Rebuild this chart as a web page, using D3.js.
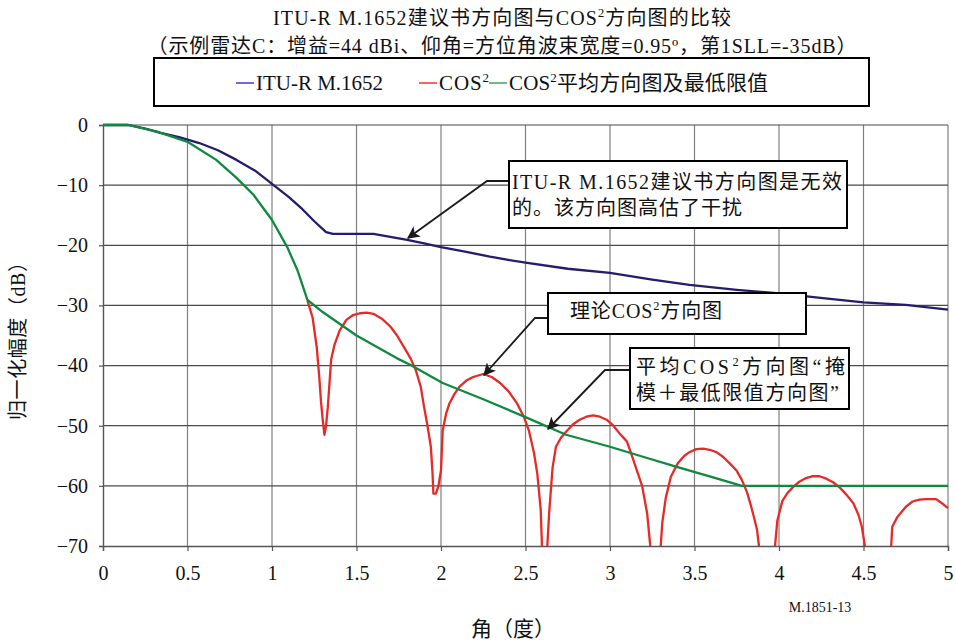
<!DOCTYPE html>
<html>
<head>
<meta charset="utf-8">
<script src="https://cdn.jsdelivr.net/npm/d3@7"></script>
<style>
  body { margin: 0; background: #fff; }
  svg { display: block; }
  text { font-family: "Liberation Serif", "Noto Sans CJK SC", serif; fill: #111; }
</style>
</head>
<body>
<svg id="chart" width="956" height="644"></svg>
<script>
// ---- axis ticks ----
const xTicks = [0, 0.5, 1, 1.5, 2, 2.5, 3, 3.5, 4, 4.5, 5];
const xTickLabels = ["0", "0.5", "1", "1.5", "2", "2.5", "3", "3.5", "4", "4.5", "5"];
const yTicks = [0, -10, -20, -30, -40, -50, -60, -70];
const yTickLabels = ["0", "\u221210", "\u221220", "\u221230", "\u221240", "\u221250", "\u221260", "\u221270"];

// ---- ITU-R M.1652 pattern (angle in degrees, level in dB) ----
const ituAngle = [0, 0.15, 0.25, 0.34, 0.45, 0.57, 0.68, 0.79, 0.9, 1.0, 1.1, 1.18, 1.25, 1.32, 1.36,
  1.6, 1.7, 1.8, 1.9, 2.0, 2.15, 2.29, 2.39, 2.5, 2.75, 3.0, 3.25, 3.47, 3.75, 4.0, 4.26, 4.5, 4.75, 5.0];
const ituLevel = [0, 0, -0.6, -1.3, -2.0, -3.0, -4.2, -5.8, -7.6, -9.8, -12.0, -14.0, -16.0, -17.8, -18.1,
  -18.1, -18.6, -19.1, -19.7, -20.3, -21.1, -21.9, -22.4, -22.9, -23.9, -24.6, -25.7, -26.6, -27.4, -28.0, -28.8, -29.5, -29.9, -30.7];

// ---- averaged COS^2 mask with floor ----
const avgAngle = [0, 0.15, 0.32, 0.5, 0.67, 0.79, 0.89, 1.0, 1.09, 1.15, 1.21, 1.3, 1.5, 1.74, 1.82,
  2.01, 2.25, 2.51, 2.74, 3.0, 3.2, 3.4, 3.6, 3.78, 5.0];
const avgLevel = [0, 0, -1.1, -2.8, -5.8, -8.8, -11.6, -15.8, -20.3, -24.1, -29.1, -31.1, -35.0, -38.8, -39.9,
  -42.9, -45.6, -48.7, -51.5, -53.5, -55.2, -56.9, -58.5, -60.0, -60.0];

// ---- theoretical COS^2 pattern (side-lobe region) ----
const cosAngle = [1.21, 1.24, 1.265, 1.28, 1.29, 1.30, 1.31, 1.32, 1.33, 1.34, 1.35, 1.37, 1.40, 1.44, 1.48,
  1.52, 1.56, 1.60, 1.65, 1.70, 1.74, 1.78, 1.82, 1.85, 1.88, 1.90, 1.92, 1.94, 1.95, 1.955, 1.97, 1.985,
  2.0, 2.01, 2.03, 2.05, 2.08, 2.11, 2.15, 2.19, 2.25, 2.30, 2.35, 2.40, 2.45, 2.49, 2.52, 2.55, 2.57,
  2.59, 2.60, 2.625, 2.64, 2.66, 2.68, 2.71, 2.74, 2.78, 2.82, 2.86, 2.90, 2.94, 2.98, 3.02, 3.06, 3.10,
  3.13, 3.16, 3.19, 3.22, 3.245, 3.295, 3.31, 3.33, 3.36, 3.40, 3.44, 3.47, 3.51, 3.55, 3.59, 3.63, 3.67,
  3.71, 3.75, 3.78, 3.81, 3.83, 3.85, 3.87, 3.89, 3.97, 3.99, 4.02, 4.05, 4.08, 4.12, 4.16, 4.20, 4.24,
  4.28, 4.32, 4.36, 4.40, 4.44, 4.47, 4.49, 4.52, 4.66, 4.67, 4.70, 4.72, 4.75, 4.79, 4.83, 4.87, 4.93,
  4.96, 5.0];
const cosLevel = [-29.2, -32, -37, -42, -46, -49, -51.5, -50, -47, -43, -39, -36.5, -34.2, -32.4, -31.6,
  -31.3, -31.2, -31.4, -32.2, -33.5, -35, -36.9, -38.8, -40.7, -43.5, -46.9, -50, -53.5, -58, -61.3, -61.3, -60,
  -57.4, -50.8, -48, -46.3, -44.7, -43.5, -42.5, -41.9, -41.4, -41.9, -42.9, -44.3, -46.3, -48.5, -50.8, -54.5, -58,
  -64, -72, -72, -64.5, -57, -53.5, -52, -51, -49.8, -49, -48.5, -48.3, -48.5, -49, -50, -51.4, -52.6,
  -55, -57.5, -60, -64.6, -72, -72, -66, -62, -58.5, -56.3, -55, -54.4, -53.9, -53.8, -54, -54.4, -55.2,
  -56.3, -57.5, -59, -61, -62.9, -65, -67.3, -72, -72, -65.8, -62.5, -61.2, -60.3, -59.3, -58.7, -58.4, -58.4,
  -58.8, -59.4, -60.3, -61.5, -62.9, -64.8, -66.8, -72, -72, -66.8, -65.2, -64.5, -63.5, -62.6, -62.3, -62.2, -62.2,
  -62.8, -63.7];

// ---- text ----
const titleLine1 = [{t: "ITU-R M.1652建议书方向图与COS"}, {t: "2", sup: true}, {t: "方向图的比较"}];
const titleLine2 = [{t: "（示例雷达C：增益=44 dBi、仰角=方位角波束宽度=0.95º，第1SLL=-35dB）"}];
const legendNames = [[{t: "ITU-R M.1652"}], [{t: "COS"}, {t: "2", sup: true}], [{t: "COS"}, {t: "2", sup: true}, {t: "平均方向图及最低限值"}]];
const yAxisTitle = "归一化幅度（dB）";
const xAxisTitle = "角（度）";
const figureId = "M.1851-13";
const note1 = [[{t: "ITU-R  M.1652建议书方向图是无效"}], [{t: "的。该方向图高估了干扰"}]];
const note2 = [[{t: "理论COS"}, {t: "2", sup: true}, {t: "方向图"}]];
const note3 = [[{t: "平均COS"}, {t: "2", sup: true}, {t: "方向图“掩"}], [{t: "模＋最低限值方向图”"}]];

const colors = { itu: "#241c6e", cos: "#e52a27", avg: "#0e8a3e" };
const legendColors = ["#3a3adc", "#ee3333", "#3aa860"];

const W = 956, H = 644;
const margin = { left: 103, right: 8, top: 125, bottom: 98 };
const svg = d3.select("#chart");

const x = d3.scaleLinear().domain([0, 5]).range([margin.left, W - margin.right]);
const y = d3.scaleLinear().domain([-70, 0]).range([H - margin.bottom, margin.top]);

// write text runs into a <text>, raising superscript runs and restoring the baseline after them
function rich(sel, parts, size) {
  let shift = 0;
  parts.forEach(p => {
    const ts = sel.append("tspan").text(p.t);
    if (p.sup) {
      ts.attr("font-size", size * 0.62).attr("dy", -size * 0.38);
      shift = size * 0.38;
    } else {
      ts.attr("dy", shift);
      shift = 0;
    }
  });
  return sel;
}

// ---- titles ----
rich(svg.append("text").attr("x", 502).attr("y", 25).attr("text-anchor", "middle").attr("font-size", 20)
  .attr("textLength", 458).attr("lengthAdjust", "spacing"), titleLine1, 20);
rich(svg.append("text").attr("x", 502).attr("y", 53).attr("text-anchor", "middle").attr("font-size", 20)
  .attr("textLength", 709).attr("lengthAdjust", "spacing"), titleLine2, 20);

// ---- legend ----
svg.append("rect").attr("x", 154).attr("y", 58).attr("width", 715).attr("height", 48)
  .attr("fill", "#fff").attr("stroke", "#000").attr("stroke-width", 2);
const legendPos = [236, 419, 489];
const legendLen = [127, 50, 259];
legendNames.forEach((parts, i) => {
  svg.append("line").attr("x1", legendPos[i]).attr("x2", legendPos[i] + 18)
    .attr("y1", 83).attr("y2", 83).attr("stroke", legendColors[i]).attr("stroke-width", 1.5);
  rich(svg.append("text").attr("x", legendPos[i] + 20).attr("y", 90).attr("font-size", 21)
    .attr("textLength", legendLen[i]).attr("lengthAdjust", "spacing"), parts, 21);
});

// ---- grid ----
const g = svg.append("g");
g.selectAll("line.vg").data(xTicks.slice(1)).join("line")
  .attr("x1", d => x(d)).attr("x2", d => x(d)).attr("y1", y(0)).attr("y2", y(-70))
  .attr("stroke", "#808080").attr("stroke-width", 1.2);
g.selectAll("line.hg").data(yTicks.slice(0, -1)).join("line")
  .attr("x1", x(0)).attr("x2", x(5)).attr("y1", d => y(d)).attr("y2", d => y(d))
  .attr("stroke", "#4a4a4a").attr("stroke-width", 1.2);

// ---- axes ----
const xAxis = d3.axisBottom(x).tickValues(xTicks).tickFormat((d, i) => xTickLabels[i]).tickSize(5).tickPadding(12);
const yAxis = d3.axisLeft(y).tickValues(yTicks).tickFormat((d, i) => yTickLabels[i]).tickSize(4).tickPadding(11);
const gx = svg.append("g").attr("transform", `translate(0,${y(-70)})`).call(xAxis);
const gy = svg.append("g").attr("transform", `translate(${x(0)},0)`).call(yAxis);
[gx, gy].forEach(a => {
  a.select(".domain").attr("stroke", "#555").attr("stroke-width", 1.4);
  a.selectAll(".tick line").attr("stroke", "#555").attr("stroke-width", 1.2);
  a.selectAll(".tick text").style("font-family", "'Liberation Serif', serif").style("font-size", "20px").style("fill", "#111");
});
gx.selectAll(".tick text").attr("dy", "0.85em");

// ---- curves ----
svg.append("clipPath").attr("id", "plotClip").append("rect")
  .attr("x", x(0)).attr("y", y(0) - 3).attr("width", x(5) - x(0) + 3).attr("height", y(-70) - y(0) + 3);
const line = d3.line().x(d => x(d[0])).y(d => y(d[1]));
const curves = svg.append("g").attr("clip-path", "url(#plotClip)");
curves.append("path").datum(d3.zip(cosAngle, cosLevel)).attr("d", line)
  .attr("fill", "none").attr("stroke", colors.cos).attr("stroke-width", 2.3).attr("stroke-linejoin", "round");
curves.append("path").datum(d3.zip(ituAngle, ituLevel)).attr("d", line)
  .attr("fill", "none").attr("stroke", colors.itu).attr("stroke-width", 2.3).attr("stroke-linejoin", "round");
curves.append("path").datum(d3.zip(avgAngle, avgLevel)).attr("d", line)
  .attr("fill", "none").attr("stroke", colors.avg).attr("stroke-width", 2.3).attr("stroke-linejoin", "round");

// ---- axis titles ----
svg.append("text").attr("transform", "translate(25,336) rotate(-90)").attr("text-anchor", "middle")
  .attr("font-size", 20).attr("textLength", 168).attr("lengthAdjust", "spacing").text(yAxisTitle);
svg.append("text").attr("x", 513).attr("y", 636).attr("text-anchor", "middle")
  .attr("font-size", 21).text(xAxisTitle);
svg.append("text").attr("x", 820).attr("y", 612).attr("text-anchor", "middle")
  .attr("font-size", 14).text(figureId);

// ---- annotations ----
const defs = svg.append("defs");
defs.append("marker").attr("id", "arrowHead").attr("viewBox", "0 0 10 10").attr("refX", 9).attr("refY", 5)
  .attr("markerWidth", 7).attr("markerHeight", 7).attr("orient", "auto-start-reverse")
  .append("path").attr("d", "M0,0 L10,5 L0,10 L2.5,5 Z").attr("fill", "#1a1a1a");

function note(box, lines, linePos, lineLen, size, leader) {
  svg.append("polyline").attr("points", leader.map(p => p.join(",")).join(" "))
    .attr("fill", "none").attr("stroke", "#1a1a1a").attr("stroke-width", 1.8)
    .attr("marker-end", "url(#arrowHead)");
  svg.append("rect").attr("x", box[0]).attr("y", box[1]).attr("width", box[2]).attr("height", box[3])
    .attr("fill", "#fff").attr("stroke", "#000").attr("stroke-width", 2);
  lines.forEach((parts, i) => {
    const t = svg.append("text").attr("x", linePos[i][0]).attr("y", linePos[i][1]).attr("font-size", size)
      .attr("textLength", lineLen[i]).attr("lengthAdjust", "spacing");
    rich(t, parts, size);
  });
}
note([509, 161, 338, 67], note1, [[512, 189], [512, 215]], [330, 230], 20, [[509, 181], [487, 181], [408, 238]]);
note([548, 293, 258, 41], note2, [[570, 318]], [152], 20, [[548, 318], [535, 318], [484, 375]]);
note([630, 348, 219, 61], note3, [[636, 374], [636, 400]], [209, 203], 20, [[630, 370], [605, 370], [548, 429]]);
</script>
</body>
</html>
